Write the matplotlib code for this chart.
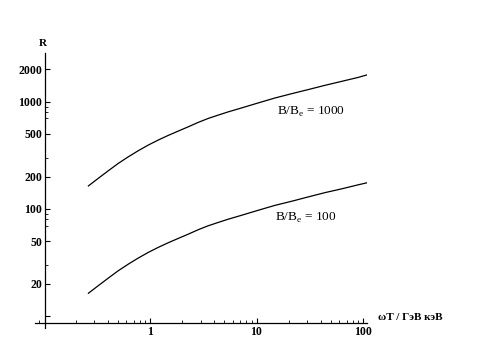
import matplotlib
matplotlib.use('Agg')
import matplotlib.pyplot as plt
from matplotlib.ticker import FixedLocator, NullFormatter

# значения
x = [0.264, 0.327, 0.406, 0.504, 0.625, 0.776, 0.964, 1.197, 1.486, 1.845,
     2.29, 2.84, 3.53, 4.39, 5.43, 7.26, 10.4, 14.9, 21.4, 30.6, 44.0, 63.1,
     90.4, 108]
r_1000 = [164, 193, 227, 266, 306, 349, 394, 439, 485, 532,
          583, 641, 698, 750, 803, 874, 973, 1081, 1186, 1295, 1419, 1545,
          1683, 1770]
r_100 = [16.4, 19.3, 22.7, 26.6, 30.6, 34.9, 39.4, 43.9, 48.5, 53.2,
         58.3, 64.1, 69.8, 75.0, 80.3, 87.4, 97.3, 108, 118, 129.5, 142, 154,
         168, 175]

y_ticks = [10, 20, 50, 100, 200, 500, 1000, 2000]
y_labels = ['', '20', '50', '100', '200', '500', '1000', '2000']
y_minor = [30, 70, 80, 90, 300, 700, 800, 900]
x_ticks = [1, 10, 100]
x_labels = ['1', '10', '100']

plt.rcParams['font.family'] = ['Liberation Serif', 'DejaVu Serif']
plt.rcParams['mathtext.fontset'] = 'custom'
plt.rcParams['mathtext.rm'] = 'Liberation Serif'

W, H = 488, 351
fig = plt.figure(figsize=(W / 100, H / 100), dpi=100)
# оси в пикселях: x от 35 до 367, y от 53 до 328
ax = fig.add_axes([35 / W, 1 - 328 / H, (367 - 35) / W, (328 - 53) / H])
ax.set_xscale('log')
ax.set_yscale('log')
ax.set_xlim(0.0832, 109)
ax.set_ylim(7.78, 2838)

ax.plot(x, r_1000, color='black', lw=0.9)
ax.plot(x, r_100, color='black', lw=0.9)

for s in ['top', 'right']:
    ax.spines[s].set_visible(False)
ax.spines['left'].set_position(('data', 0.103))
ax.spines['bottom'].set_position(('data', 8.7))
ax.spines['left'].set_linewidth(0.9)
ax.spines['bottom'].set_linewidth(0.9)

ax.yaxis.set_major_locator(FixedLocator(y_ticks))
ax.set_yticklabels(y_labels)
ax.yaxis.set_minor_locator(FixedLocator(y_minor))
ax.yaxis.set_minor_formatter(NullFormatter())
ax.xaxis.set_major_locator(FixedLocator(x_ticks))
ax.set_xticklabels(x_labels)
ax.xaxis.set_minor_formatter(NullFormatter())

ax.tick_params(axis='both', which='major', direction='in', length=3.5, width=0.8,
               labelsize=8.5, pad=2)
ax.tick_params(axis='both', which='minor', direction='in', length=2, width=0.6)
for lab in ax.get_xticklabels() + ax.get_yticklabels():
    lab.set_fontweight('bold')

ax.text(32.5, 800, r'B/B$_\mathrm{e}$ = 1000', fontsize=9.5, ha='center', va='center')
ax.text(29, 82, r'B/B$_\mathrm{e}$ = 100', fontsize=9.5, ha='center', va='center')

fig.text(43 / W, 1 - 43 / H, 'R', fontsize=8, fontweight='bold', ha='center', va='center')
fig.text(378 / W, 1 - 318 / H, 'ωT / ГэВ кэВ', fontsize=8, fontweight='bold',
         ha='left', va='center')

fig.savefig('out.png', dpi=100)
